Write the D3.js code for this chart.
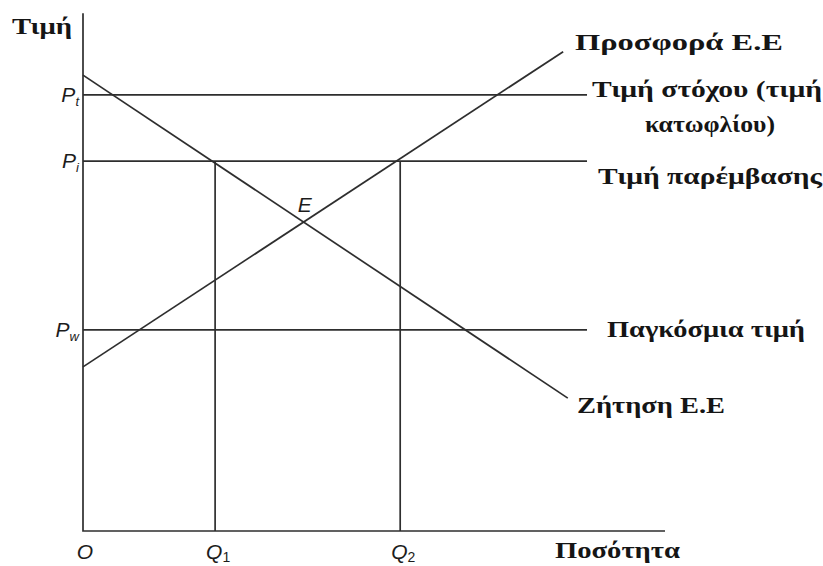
<!DOCTYPE html>
<html>
<head>
<meta charset="utf-8">
<script src="https://cdn.jsdelivr.net/npm/d3@7"></script>
<style>
    body { margin: 0; background: #fff; }
    .curve { fill: none; stroke: #2e2e2e; stroke-width: 1.7; }
    .axis { fill: none; stroke: #2e2e2e; stroke-width: 1.7; }
    .label { font-family: "Liberation Serif", "DejaVu Serif", serif; font-weight: bold; font-size: 24px; fill: #151515; }
    .sym { font-family: "Liberation Sans", "DejaVu Sans", sans-serif; font-style: italic; font-size: 21px; fill: #1c1c1c; }
</style>
</head>
<body>
<div id="chart"></div>
<script>
// Data (quantity 0-100, price 0-100)
var demand = [[0, 87.5], [83.3, 25.5]];
var supply = [[0, 31.5], [82.5, 92]];
var priceNames = ["Pt", "Pi", "Pw"];
var priceSubs = ["t", "i", "w"];
var priceValues = [83.7, 71, 38.6];
var priceLineEnd = 86.6;
var quantityNames = ["Q1", "Q2"];
var quantityValues = [22.7, 54.5];
var quantitySubs = ["1", "2"];
var eqPoint = [38.1, 59];

// Texts
var yTitle = "Τιμή";
var xTitle = "Ποσότητα";
var supplyLabel = "Προσφορά Ε.Ε";
var demandLabel = "Ζήτηση Ε.Ε";
var targetLabel = ["Τιμή στόχου (τιμή", "κατωφλίου)"];
var interventionLabel = "Τιμή παρέμβασης";
var worldLabel = "Παγκόσμια τιμή";

// SVG
var svgWidth = 823;
var svgHeight = 566;

var svg = d3.select("#chart")
    .append("svg")
    .attr("width", svgWidth)
    .attr("height", svgHeight);

// Scales
var xScale = d3.scaleLinear().domain([0, 100]).range([83, 665]);
var yScale = d3.scaleLinear().domain([0, 100]).range([531, 10]);

var line = d3.line()
    .x(d => xScale(d[0]))
    .y(d => yScale(d[1]));

// Axes
svg.append("path")
    .attr("class", "axis")
    .attr("d", line([[0, 99.4], [0, 0], [100, 0]]));

// Price lines
svg.selectAll(".price")
    .data(priceValues)
    .enter()
    .append("path")
    .attr("class", "curve price")
    .attr("d", d => line([[0, d], [priceLineEnd, d]]));

// Quantity drop lines
svg.selectAll(".qline")
    .data(quantityValues)
    .enter()
    .append("path")
    .attr("class", "curve qline")
    .attr("d", d => line([[d, 0], [d, priceValues[1]]]));

// Supply / demand
svg.append("path").attr("class", "curve").attr("d", line(demand));
svg.append("path").attr("class", "curve").attr("d", line(supply));

// Price symbols
var pLabels = svg.selectAll(".plabel")
    .data(priceValues)
    .enter()
    .append("text")
    .attr("class", "sym plabel")
    .attr("x", xScale(0) - 4)
    .attr("y", d => yScale(d) + 7)
    .attr("text-anchor", "end");
pLabels.append("tspan").text("P");
pLabels.append("tspan")
    .attr("dy", 4)
    .attr("font-size", 13)
    .text((d, i) => priceSubs[i]);

// Quantity symbols
svg.append("text")
    .attr("class", "sym")
    .attr("x", xScale(0) + 2)
    .attr("y", 559)
    .attr("text-anchor", "middle")
    .text("O");

var qLabels = svg.selectAll(".qlabel")
    .data(quantityValues)
    .enter()
    .append("text")
    .attr("class", "sym qlabel")
    .attr("x", d => xScale(d) - 9)
    .attr("y", 559);
qLabels.append("tspan").text("Q");
qLabels.append("tspan")
    .attr("dy", 3)
    .attr("font-size", 14)
    .attr("font-style", "normal")
    .text((d, i) => quantitySubs[i]);

// Equilibrium
svg.append("text")
    .attr("class", "sym")
    .attr("x", xScale(eqPoint[0]))
    .attr("y", yScale(eqPoint[1]) - 12)
    .attr("text-anchor", "middle")
    .text("E");

// Bold labels
function boldLabel(txt, x, y, len, anchor) {
    svg.append("text")
        .attr("class", "label")
        .attr("x", x)
        .attr("y", y)
        .attr("text-anchor", anchor || "start")
        .attr("textLength", len)
        .attr("lengthAdjust", "spacingAndGlyphs")
        .text(txt);
}

boldLabel(yTitle, 12, 34, 60);
boldLabel(xTitle, 555, 558, 125);
boldLabel(supplyLabel, 575, 50, 208);
boldLabel(targetLabel[0], 592, 97, 230);
boldLabel(targetLabel[1], 645, 132, 130);
boldLabel(interventionLabel, 598, 184, 224);
boldLabel(worldLabel, 607, 337, 198);
boldLabel(demandLabel, 577, 413, 148);
</script>
</body>
</html>
